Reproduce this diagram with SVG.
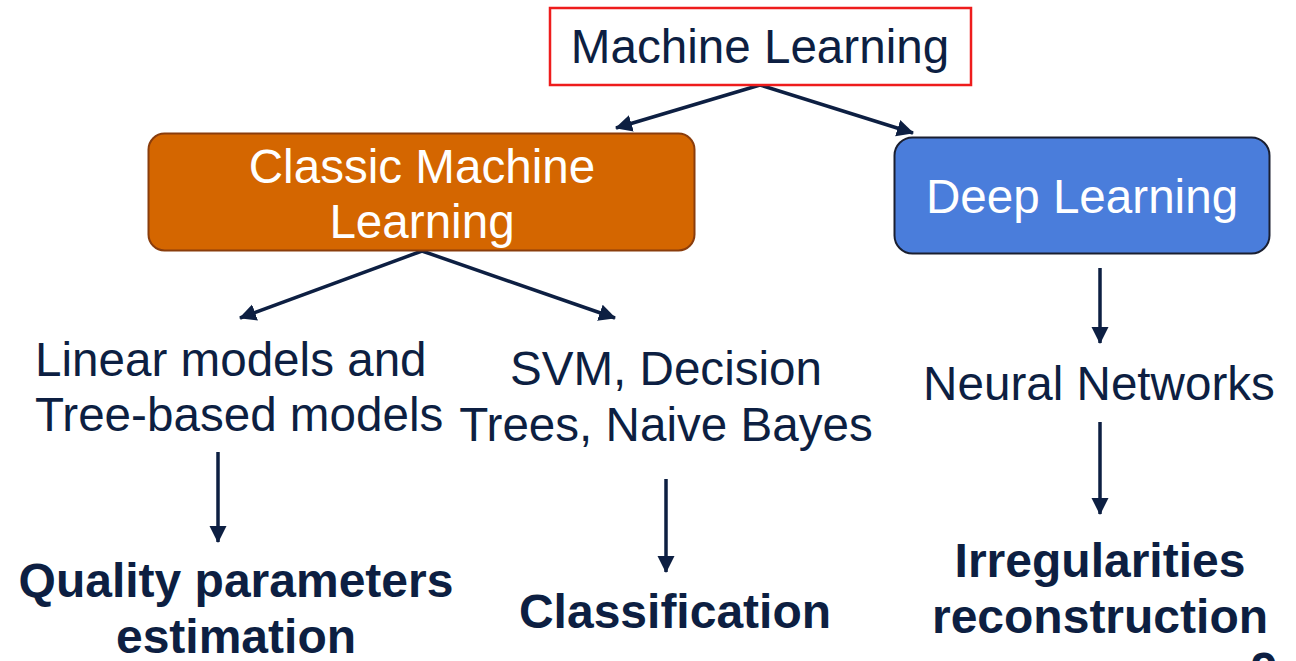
<svg xmlns="http://www.w3.org/2000/svg" width="1296" height="661" viewBox="0 0 1296 661">
<style>
.t{font-family:"Liberation Sans",Arial,sans-serif;font-size:47.6px;fill:#0d1f42}
.w{fill:#ffffff}
.b{font-weight:bold;font-size:48px}
.c{stroke:#0d1f42;stroke-width:3.5;fill:none;marker-end:url(#ah)}
</style>
<defs>
<marker id="ah" markerUnits="userSpaceOnUse" markerWidth="18" markerHeight="18" refX="16" refY="8.5" orient="auto">
<path d="M0,0 L17,8.5 L0,17 z" fill="#0d1f42"/>
</marker>
</defs>
<rect width="1296" height="661" fill="#ffffff"/>
<g id="connectors">
<line class="c" x1="760" y1="85" x2="616" y2="128"/>
<line class="c" x1="760" y1="85" x2="913" y2="133"/>
<line class="c" x1="422" y1="251" x2="240" y2="318"/>
<line class="c" x1="422" y1="251" x2="615" y2="318"/>
<line class="c" x1="218" y1="452" x2="218" y2="542"/>
<line class="c" x1="666" y1="479" x2="666" y2="572"/>
<line class="c" x1="1100" y1="268" x2="1100" y2="343"/>
<line class="c" x1="1100" y1="422" x2="1100" y2="514"/>
</g>
<g id="machine-learning">
<rect x="550" y="8" width="421" height="77" fill="#ffffff" stroke="#ee1c1c" stroke-width="2.5"/>
<text class="t" x="760" y="63" text-anchor="middle">Machine Learning</text>
</g>
<g id="classic-ml">
<rect x="148.5" y="133.5" width="546" height="117" rx="16" fill="#d46600" stroke="#8a3d0c" stroke-width="2"/>
<text class="t w" x="422" y="183" text-anchor="middle">Classic Machine</text>
<text class="t w" x="422" y="238" text-anchor="middle">Learning</text>
</g>
<g id="deep-learning">
<rect x="894.5" y="137.5" width="375" height="116" rx="18" fill="#4a7ddb" stroke="#1a1f30" stroke-width="2"/>
<text class="t w" x="1082" y="213" text-anchor="middle">Deep Learning</text>
</g>
<g id="linear-models">
<text class="t" x="35" y="376">Linear models and</text>
<text class="t" x="35" y="431">Tree-based models</text>
</g>
<g id="svm">
<text class="t" x="666" y="385" text-anchor="middle">SVM, Decision</text>
<text class="t" x="666" y="441" text-anchor="middle">Trees, Naive Bayes</text>
</g>
<g id="neural-networks">
<text class="t" x="1099" y="400" text-anchor="middle">Neural Networks</text>
</g>
<g id="quality">
<text class="t b" x="236" y="597" text-anchor="middle">Quality parameters</text>
<text class="t b" x="236" y="653" text-anchor="middle">estimation</text>
</g>
<g id="classification">
<text class="t b" x="675" y="628" text-anchor="middle">Classification</text>
</g>
<g id="irregularities">
<text class="t b" x="1100" y="577" text-anchor="middle">Irregularities</text>
<text class="t b" x="1100" y="633" text-anchor="middle">reconstruction</text>
</g>
<text class="t b" x="1264" y="686" text-anchor="middle">9</text>
</svg>
